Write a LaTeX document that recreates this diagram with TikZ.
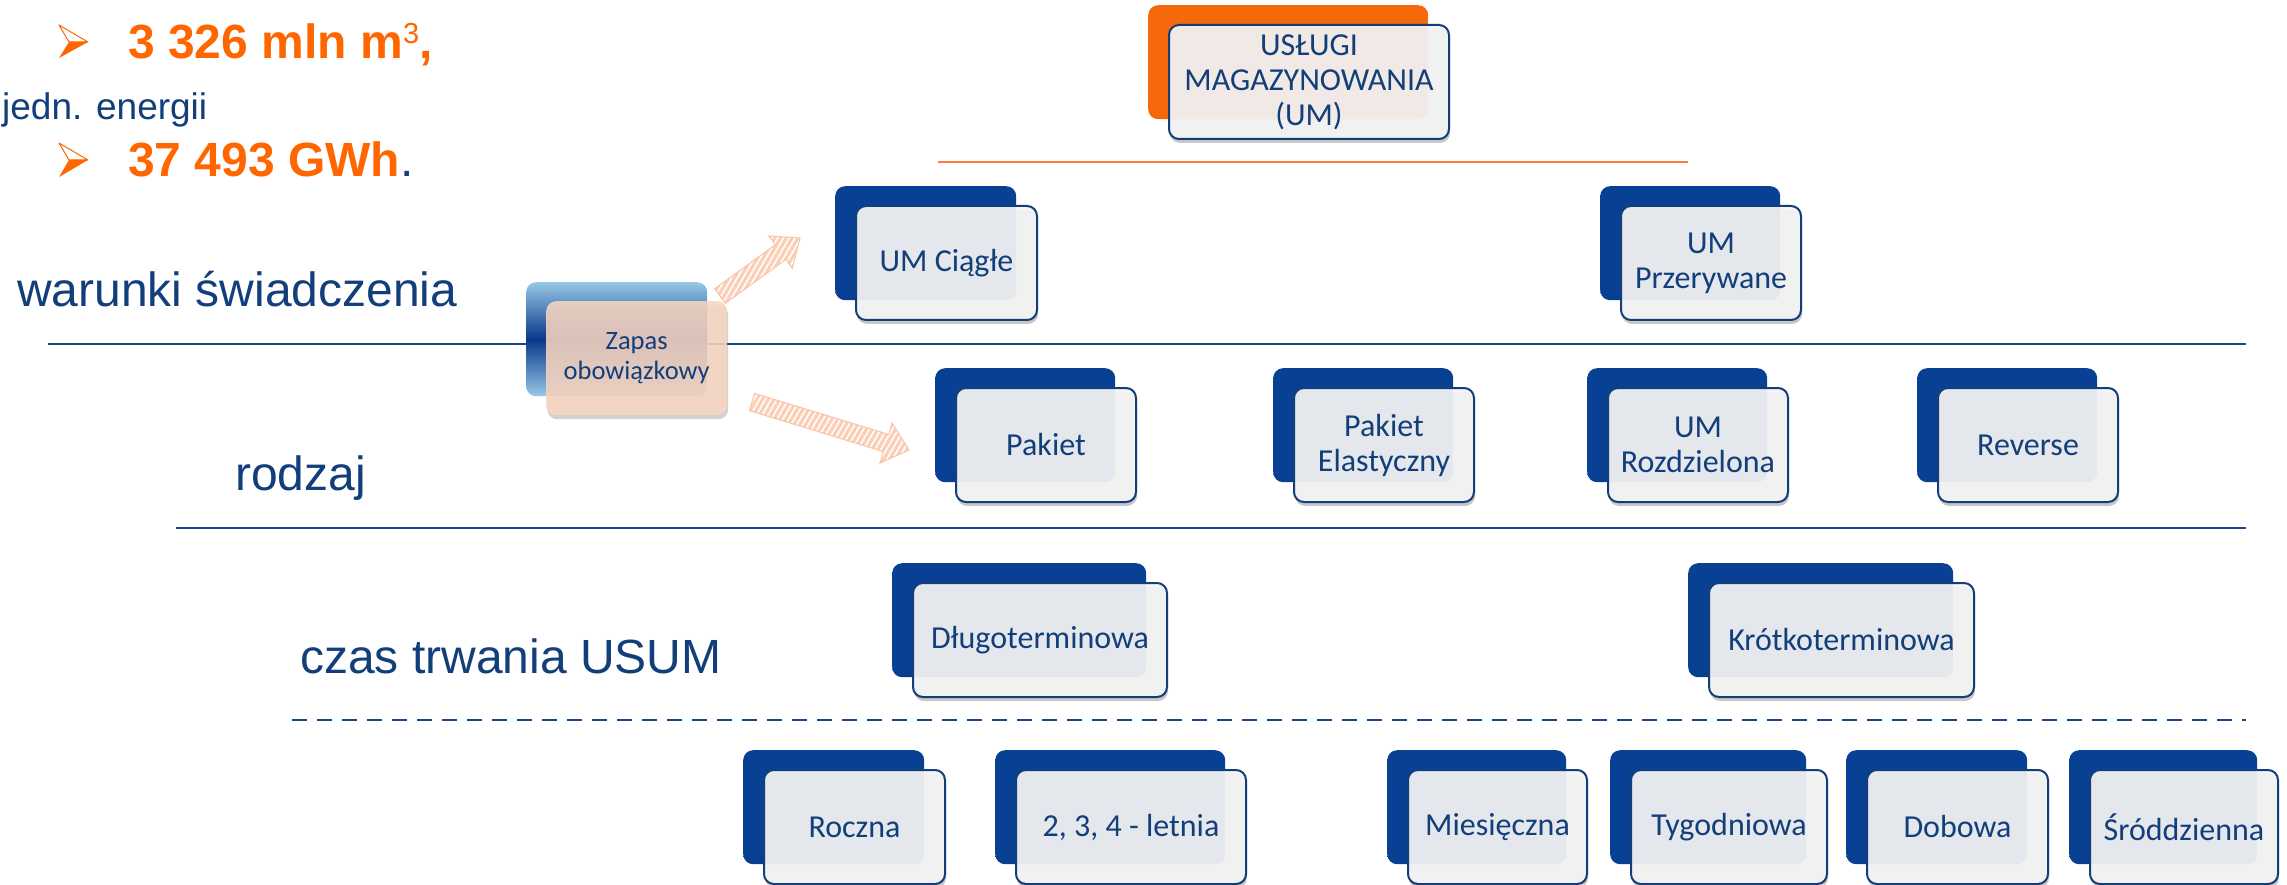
\documentclass[tikz,border=0pt]{standalone}
\usepackage{fontspec}
\setmainfont{Liberation Sans}
\newfontfamily\carl{Carlito}
\usetikzlibrary{shadows,patterns.meta}
\definecolor{navy}{RGB}{18,62,122}
\definecolor{lineblue}{RGB}{22,72,140}
\definecolor{orng}{RGB}{255,102,0}
\definecolor{orline}{RGB}{250,125,60}
\definecolor{bb0}{RGB}{75,135,215}
\definecolor{bb1}{RGB}{25,90,180}
\definecolor{bb2}{RGB}{8,64,148}
\definecolor{bb3}{RGB}{4,50,126}
\definecolor{ob0}{RGB}{255,160,80}
\definecolor{ob1}{RGB}{255,120,25}
\definecolor{ob2}{RGB}{245,105,10}
\definecolor{ob3}{RGB}{225,88,5}
\definecolor{zc0}{RGB}{205,238,250}
\definecolor{zc1}{RGB}{150,200,230}
\definecolor{zc2}{RGB}{10,55,140}
\definecolor{frontfill}{RGB}{245,245,246}
\definecolor{peachfill}{RGB}{248,214,194}
\definecolor{arrfill}{RGB}{251,206,182}
\definecolor{arrline}{RGB}{250,196,166}
\pgfdeclareverticalshading{backblue}{100bp}{color(0bp)=(bb3); color(30bp)=(bb2); color(86bp)=(bb2); color(94bp)=(bb1); color(100bp)=(bb0)}
\pgfdeclareverticalshading{backorange}{100bp}{color(0bp)=(ob3); color(30bp)=(ob2); color(86bp)=(ob2); color(94bp)=(ob1); color(100bp)=(ob0)}
\pgfdeclareverticalshading{backzapas}{100bp}{color(0bp)=(zc0); color(25bp)=(zc1); color(50bp)=(zc2); color(75bp)=(zc1); color(100bp)=(zc0)}
\tikzset{
  backbox/.style={rounded corners=10pt, shading=backblue, minimum height=114pt, inner sep=0pt, anchor=north west, draw=none},
  orangeback/.style={backbox, shading=backorange},
  zapasback/.style={backbox, shading=backzapas},
  frontbox/.style={rounded corners=10pt, draw=navy, line width=2pt, fill=frontfill, fill opacity=0.93, text opacity=1,
    minimum height=114pt, inner sep=2pt, anchor=north west, align=center, text=navy,
    font=\carl\fontsize{32}{35}\selectfont,
    drop shadow={shadow xshift=1pt, shadow yshift=-4pt, opacity=0.22, fill=black}},
  zapasfront/.style={rounded corners=10pt, draw=none, fill=peachfill, fill opacity=0.88, text opacity=1,
    minimum height=114pt, inner sep=2pt, anchor=north west, align=center, text=navy,
    font=\carl\fontsize{26.5}{30}\selectfont,
    drop shadow={shadow xshift=1pt, shadow yshift=-4pt, opacity=0.18, fill=black}},
  sepline/.style={draw=lineblue, line width=2.5pt},
  lbl/.style={anchor=base west, inner sep=0pt, text=navy, font=\fontsize{48}{56}\selectfont},
  bigorange/.style={anchor=base west, inner sep=0pt, text=orng, font=\bfseries\fontsize{48}{56}\selectfont},
  fatarrow/.style={draw=arrline, line width=1pt, preaction={fill=arrfill},
    pattern={Lines[angle=60, distance=5pt, line width=1.6pt]}, pattern color=white},
}
\newcommand\umbox[7]{%
  \node[#1, minimum width=#6pt] (#3b) at (#4,#5) {};
  \node[#2, minimum width=#6pt, xshift=20pt, yshift=-19pt] (#3) at (#4,#5) {#7};
}
\begin{document}
\begin{tikzpicture}[x=1pt, y=-1pt]
\useasboundingbox (0,0) rectangle (2287,885);
\fill[white] (0,0) rectangle (2287,885);

% separator lines
\draw[draw=orline, line width=2.5pt] (938,162) -- (1688,162);
\draw[sepline] (48,344) -- (2246,344);
\draw[sepline] (176,528) -- (2246,528);
\draw[sepline, dash pattern=on 15pt off 10pt] (292,720) -- (2246,720);

% top-left texts and bullets
\filldraw[draw=orng, fill=white, line width=1pt, line join=round] (59,25) -- (88,42) -- (69,42) -- cycle;
\fill[orng] (69,42) -- (88,42) -- (59,58) -- cycle;
\filldraw[draw=orng, fill=white, line width=1pt, line join=round] (59,143) -- (88,160) -- (69,160) -- cycle;
\fill[orng] (69,160) -- (88,160) -- (59,177) -- cycle;
\node[bigorange] (t1) at (128,59) {3 326 mln m\raisebox{15pt}{\mdseries\fontsize{29}{30}\selectfont 3},};
\node[lbl, font=\fontsize{37}{44}\selectfont] (t2) at (2,120) {jedn. energii};
\node[bigorange] (t3) at (128,177) {37 493 GWh{\mdseries\color{navy}.}};

% row labels
\node[lbl] (l1) at (17,307) {warunki świadczenia};
\node[lbl] (l2) at (235,490) {rodzaj};
\node[lbl] (l3) at (300,673) {czas trwania USUM};

% boxes
\umbox{orangeback}{frontbox}{um}{1148}{5}{280}{USŁUGI\\MAGAZYNOWANIA\\(UM)}
\umbox{backbox}{frontbox}{ciagle}{835}{186}{181}{UM Ciągłe}
\umbox{backbox}{frontbox}{przer}{1600}{186}{180}{UM\\Przerywane}
\umbox{zapasback}{zapasfront}{zapas}{526}{282}{181}{Zapas\\obowiązkowy}
\umbox{backbox}{frontbox}{pakiet}{935}{368}{180}{Pakiet}
\umbox{backbox}{frontbox}{elast}{1273}{368}{180}{Pakiet\\Elastyczny}
\umbox{backbox}{frontbox}{rozdz}{1587}{368}{180}{UM\\Rozdzielona}
\umbox{backbox}{frontbox}{rev}{1917}{368}{180}{Reverse}
\umbox{backbox}{frontbox}{dlugo}{892}{563}{254}{Długoterminowa}
\umbox{backbox}{frontbox}{krotko}{1688}{563}{265}{Krótkoterminowa}
\umbox{backbox}{frontbox}{roczna}{743}{750}{181}{Roczna}
\umbox{backbox}{frontbox}{letnia}{995}{750}{230}{2, 3, 4 - letnia}
\umbox{backbox}{frontbox}{mies}{1387}{750}{179}{Miesięczna}
\umbox{backbox}{frontbox}{tyg}{1610}{750}{196}{Tygodniowa}
\umbox{backbox}{frontbox}{dob}{1846}{750}{181}{Dobowa}
\umbox{backbox}{frontbox}{srod}{2069}{750}{188}{Śróddzienna}

% striped fat arrows from Zapas
\path[fatarrow] (725.3,303.3) -- (785.9,259.4) -- (792.3,268.3) -- (800,238)
  -- (768.9,235.9) -- (775.3,244.8) -- (714.7,288.7) -- cycle;
\path[fatarrow] (749.4,410.6) -- (883.5,451.6) -- (880.0,463.1) -- (909,450)
  -- (892.2,422.9) -- (888.7,434.4) -- (754.6,393.4) -- cycle;
\end{tikzpicture}
\end{document}
